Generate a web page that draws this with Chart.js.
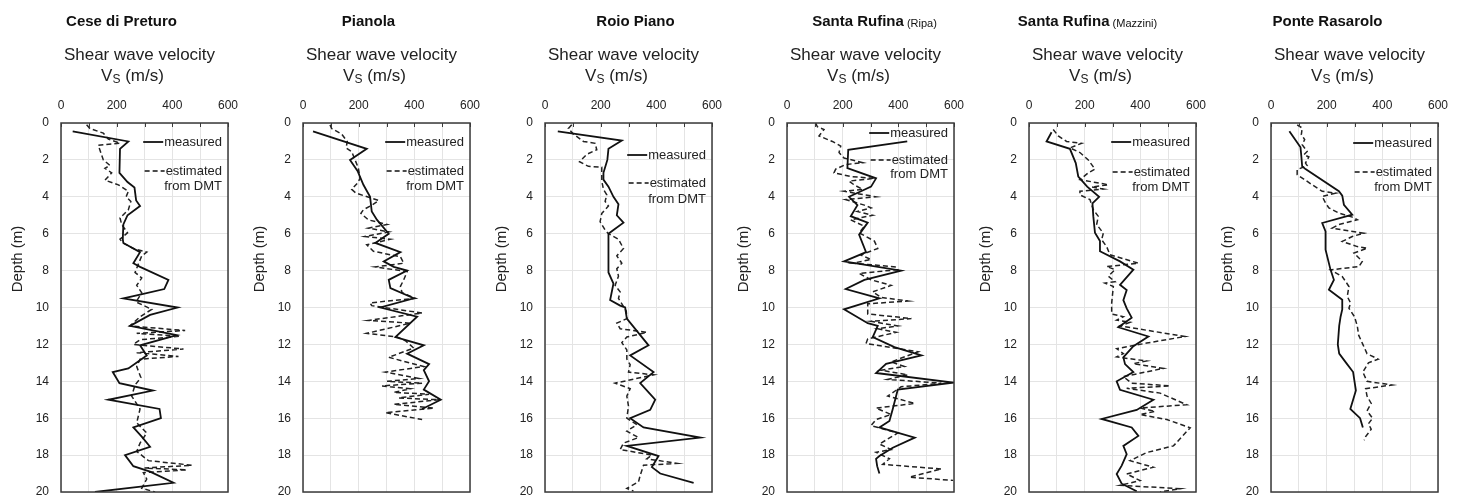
<!DOCTYPE html>
<html><head><meta charset="utf-8">
<script src="https://cdn.jsdelivr.net/npm/chart.js@4.4.1/dist/chart.umd.min.js"></script>
<style>
html,body{margin:0;padding:0;background:#fff;}
#wrap{position:relative;width:1464px;height:500px;overflow:hidden;}
.panel{position:absolute;top:0;width:242px;height:500px;}
</style></head><body><div id="wrap"></div>
<script>
// ---------- data ----------
const siteNames = ['Cese di Preturo','Pianola','Roio Piano','Santa Rufina','Santa Rufina','Ponte Rasarolo'];
const siteSuffix = ['','','','(Ripa)','(Mazzini)',''];
const xTickValues = [0,100,200,300,400,500,600];
const yTickValues = [0,2,4,6,8,10,12,14,16,18,20];

const ceseMeasDepth = [0.45,1.0,1.4,2.7,3.2,3.5,4.2,4.5,5.0,5.5,6.3,6.5,7.0,7.6,7.8,8.5,9.0,9.3,9.5,10.0,10.4,11.0,11.5,12.05,12.6,13.3,13.5,14.1,14.5,15.0,15.5,16.0,16.5,17.0,17.55,18.0,18.6,18.9,19.5,20.0];
const ceseMeasVs    = [42,242,212,210,239,264,270,284,239,224,222,224,284,260,284,386,371,284,224,419,320,248,416,284,308,242,186,210,330,170,354,359,260,290,320,230,260,320,404,122];
const ceseDmtDepth  = [0.1,0.3,0.55,0.87,1.1,1.2,2.0,2.3,2.45,2.7,3.1,3.35,3.7,4.0,4.25,4.7,5.15,5.5,5.95,6.3,6.5,6.8,7.0,7.2,8.1,8.4,8.8,9.2,9.7,10.1,10.5,11.0,11.25,11.4,11.55,11.75,12.0,12.25,12.45,12.65,12.8,13.2,13.8,14.2,14.8,15.5,16.25,16.8,17.35,17.8,18.3,18.55,18.7,18.8,18.95,19.3,19.8,20.0];
const ceseDmtVs     = [92,104,152,170,212,134,152,176,158,182,158,206,242,234,251,242,212,218,239,212,222,260,308,290,266,290,272,290,270,326,284,248,446,272,428,284,260,440,272,422,284,272,287,266,254,284,272,308,284,272,314,470,300,452,296,308,290,338];

const pianMeasDepth = [0.45,1.4,2.0,2.6,3.35,4.0,4.8,5.25,6.0,6.5,7.0,7.5,7.8,8.0,8.5,8.95,9.5,10.0,10.5,11.6,12.05,12.5,13.07,13.4,14.0,14.45,15.0,15.5];
const pianMeasVs    = [36,229,169,196,217,241,247,266,308,260,350,290,326,374,308,314,398,278,410,332,434,374,453,434,453,434,495,428];
const pianDmtDepth  = [0.1,0.3,0.6,1.0,1.35,1.55,2.45,3.0,3.25,3.6,3.8,4.2,4.4,4.7,4.9,5.25,5.5,5.7,5.9,6.15,6.3,6.6,6.95,7.25,7.6,7.8,8.05,8.5,8.85,9.2,9.5,9.75,9.9,10.3,10.7,10.85,11.4,11.6,11.8,12.2,12.7,13.2,13.5,13.85,14.0,14.1,14.25,14.4,14.6,14.7,14.9,15.0,15.25,15.45,15.7,16.07];
const pianDmtVs     = [97,103,139,159,155,175,199,205,196,175,190,272,253,217,208,235,302,235,308,223,314,229,253,350,362,259,374,362,350,356,404,241,247,428,235,386,229,338,368,398,308,434,296,416,302,428,284,386,326,453,344,489,326,471,296,428];

const roioMeasDepth = [0.45,0.95,1.4,2.0,2.7,3.07,3.45,4.0,4.4,5.0,5.4,5.8,6.0,7.2,8.1,8.7,9.6,9.9,10.0,10.6,12.05,12.6,13.5,14.1,15.0,15.55,16.0,16.5,17.05,17.5,18.05,18.65,19.0,19.5];
const roioMeasVs    = [46,276,228,224,210,210,228,246,264,258,282,246,228,228,228,246,234,270,288,294,372,306,390,342,396,378,306,354,558,294,408,384,414,534];
const roioDmtDepth  = [0.1,0.3,0.6,1.0,1.1,1.45,1.7,2.1,2.35,2.4,3.15,3.6,3.9,4.25,4.5,4.9,5.35,5.8,6.0,6.3,6.8,7.2,7.6,7.9,8.3,8.8,9.15,9.5,10.2,10.6,10.85,11.15,11.35,11.6,11.9,12.3,12.8,13.1,13.5,13.65,14.1,14.4,14.8,15.35,16.0,16.35,16.7,17.05,17.35,17.7,18.0,18.2,18.45,18.55,19.1,19.45,19.8,19.95];
const roioDmtVs     = [96,84,102,138,180,186,150,124,156,204,204,210,222,216,228,204,198,216,228,264,282,258,276,258,264,252,270,264,292,294,258,270,366,294,276,294,294,306,300,390,252,306,294,300,294,330,294,336,282,270,384,366,474,354,342,336,294,318];

const ripaMeasDepth = [1.0,1.45,2.45,3.0,3.45,3.7,4.0,4.45,5.05,5.4,6.05,7.0,7.5,8.0,8.5,9.0,9.5,10.1,10.85,11.0,11.6,12.15,12.6,13.05,13.55,14.07,14.45,15.5,16.15,16.5,17.05,17.6,18.05,18.2,18.6,19.0];
const ripaMeasVs    = [432,220,217,320,302,266,223,253,229,290,259,284,205,410,278,211,332,205,290,326,308,386,483,356,320,597,398,380,368,332,459,380,332,320,324,332];
const ripaDmtDepth  = [0.0,0.2,0.35,0.7,1.0,1.25,1.6,1.9,2.15,2.25,2.5,2.7,2.9,3.0,3.15,3.35,3.6,3.7,4.0,4.15,4.45,4.6,4.8,5.0,5.25,5.6,5.95,6.4,6.8,7.15,7.4,7.6,7.8,7.95,8.15,8.5,8.8,9.15,9.45,9.65,9.8,10.35,10.6,10.75,11.0,11.15,11.35,11.7,11.95,12.2,12.4,12.95,13.2,13.4,13.65,13.9,14.1,14.3,14.8,15.2,15.45,15.8,16.07,16.4,16.8,17.4,17.7,17.85,18.2,18.5,18.75,19.2,19.37];
const ripaDmtVs     = [103,109,133,115,163,193,187,205,272,211,175,169,229,314,223,241,272,205,320,211,278,302,253,308,229,278,259,314,326,265,302,235,392,398,259,302,374,308,338,434,290,290,447,302,398,326,392,290,284,386,471,374,422,338,434,362,555,410,362,459,320,374,320,302,398,332,374,320,368,344,555,440,597];

const mazzMeasDepth = [0.5,1.0,1.4,2.17,2.9,3.45,4.0,4.35,5.05,5.95,6.4,6.95,7.5,7.95,8.77,9.05,9.6,10.05,10.55,11.07,11.57,12.1,12.7,13.07,13.5,14.0,14.46,15.0,15.55,16.04,16.5,16.96,17.5,17.95,18.57,19.02,19.55,19.96];
const mazzMeasVs    = [81,63,147,168,177,209,252,228,231,237,255,255,327,375,327,351,339,351,369,321,429,375,339,345,375,315,327,447,387,261,369,393,339,351,333,315,333,387];
const mazzDmtDepth  = [0.35,0.7,1.0,1.1,1.35,1.6,2.0,2.5,2.7,3.07,3.35,3.47,3.58,3.7,3.9,4.15,4.7,5.06,5.5,5.97,6.33,6.7,7.14,7.6,7.78,7.95,8.3,8.6,8.68,8.86,9.76,10.35,10.5,10.68,10.8,11.0,11.57,11.93,12.23,12.5,12.68,12.9,13.04,13.3,13.75,14.1,14.25,14.38,14.64,15.27,15.45,15.63,15.8,16.07,16.52,17.5,17.86,18.3,18.66,19.02,19.38,19.64,19.82,20.0];
const mazzDmtVs     = [87,105,135,189,147,183,213,237,213,183,285,225,267,183,183,219,231,249,243,267,261,279,291,393,279,309,285,309,273,303,297,297,339,315,363,327,561,423,315,339,315,423,375,483,339,369,507,351,471,567,399,453,399,495,579,519,423,363,447,351,399,327,543,471];

const ponteMeasDepth = [0.45,1.32,1.8,2.35,2.5,3.7,3.94,4.43,4.97,5.42,5.88,6.87,7.96,8.5,9.04,9.58,10.1,10.5,11.0,12.0,12.5,13.0,13.5,14.0,14.5,15.0,15.5,16.0,16.5];
const ponteMeasVs    = [66,106,109,112,124,244,256,262,292,184,196,196,214,226,208,256,256,250,245,240,245,270,295,300,305,295,285,320,330];
const ponteDmtDepth  = [0.1,0.27,0.63,0.9,1.18,1.54,1.72,1.84,2.17,2.31,2.53,2.8,3.04,3.35,3.7,3.8,3.98,4.34,4.6,4.88,5.1,5.24,5.5,5.7,5.97,6.15,6.42,6.7,6.78,7.05,7.5,7.78,7.96,8.32,8.86,9.4,9.76,10.04,10.5,11.0,11.5,12.0,12.5,12.8,13.0,13.5,14.0,14.2,14.4,14.8,15.2,15.6,16.0,16.3,16.6,17.0,17.2];
const ponteDmtVs     = [94,112,109,121,112,130,118,136,124,130,94,94,118,148,184,232,184,196,208,244,292,310,244,220,334,292,256,310,346,298,328,316,214,256,280,274,286,280,300,310,315,330,345,385,350,330,345,435,340,345,360,345,365,350,360,340,335];

const measuredDepths = [ceseMeasDepth,pianMeasDepth,roioMeasDepth,ripaMeasDepth,mazzMeasDepth,ponteMeasDepth];
const measuredValues = [ceseMeasVs,pianMeasVs,roioMeasVs,ripaMeasVs,mazzMeasVs,ponteMeasVs];
const dmtDepths = [ceseDmtDepth,pianDmtDepth,roioDmtDepth,ripaDmtDepth,mazzDmtDepth,ponteDmtDepth];
const dmtValues = [ceseDmtVs,pianDmtVs,roioDmtVs,ripaDmtVs,mazzDmtVs,ponteDmtVs];

// ---------- layout (not data) ----------
const PANEL_STEP = 242;
const legendOffsets = [[19,48,63],[19,48,63],[32,60,76],[10,37,51],[19,49,64],[20,49,64]];
const titleShift = [-23,-18,7,4,-25,-27];
const FONT = '"Liberation Sans", Arial, sans-serif';

function pts(d, v){ return d.map((dd,i)=>({x:v[i], y:dd})); }

const decor = {
  id:'decor',
  afterDraw(chart, args, o){
    const {ctx, chartArea:a, scales:{x}} = chart;
    ctx.save();
    ctx.strokeStyle = '#3a3a3a'; ctx.lineWidth = 1.5;
    ctx.strokeRect(a.left, a.top, a.right-a.left, a.bottom-a.top);
    ctx.lineWidth = 1;
    xTickValues.forEach(v=>{
      const px = Math.round(x.getPixelForValue(v))+0.5;
      ctx.beginPath(); ctx.moveTo(px, a.top); ctx.lineTo(px, a.top+4); ctx.stroke();
    });
    const cx = (a.left+a.right)/2;
    ctx.fillStyle = '#111';
    ctx.textBaseline = 'middle';
    // title
    ctx.font = 'bold 15px '+FONT;
    const t1 = o.name; const w1 = ctx.measureText(t1).width;
    let w2 = 0;
    if (o.suffix){ ctx.font = '11px '+FONT; w2 = ctx.measureText(' '+o.suffix).width; }
    let tx = cx + o.shift - (w1+w2)/2;
    ctx.textAlign = 'left';
    ctx.font = 'bold 15px '+FONT; ctx.fillText(t1, tx, 22);
    if (o.suffix){ ctx.font = '11px '+FONT; ctx.fillText(' '+o.suffix, tx+w1, 24); }
    // subtitle
    ctx.fillStyle = '#222';
    ctx.font = '17px '+FONT; ctx.textAlign = 'center';
    ctx.fillText('Shear wave velocity', cx-5, 55);
    ctx.textAlign = 'left';
    const pV = 'V', pS = 'S', pR = ' (m/s)';
    ctx.font = '17px '+FONT; const wV = ctx.measureText(pV).width, wR = ctx.measureText(pR).width;
    ctx.font = '12px '+FONT; const wS = ctx.measureText(pS).width;
    let sx = cx - 12 - (wV+wS+wR)/2;
    ctx.font = '17px '+FONT; ctx.fillText(pV, sx, 76);
    ctx.font = '12px '+FONT; ctx.fillText(pS, sx+wV, 80);
    ctx.font = '17px '+FONT; ctx.fillText(pR, sx+wV+wS, 76);
    // y axis title
    ctx.save();
    ctx.translate(a.left-43, 259); ctx.rotate(-Math.PI/2);
    ctx.textAlign = 'center'; ctx.font = '15px '+FONT; ctx.fillStyle = '#222';
    ctx.fillText('Depth (m)', 0, 0);
    ctx.restore();
    // legend
    const off = o.legend;
    ctx.font = '13px '+FONT; ctx.fillStyle = '#222'; ctx.textAlign = 'right';
    const rx = a.right - 6;
    const lines = [['measured',off[0],[]],['estimated',off[1],[5,3]]];
    lines.forEach(([txt, dy, dash])=>{
      const w = ctx.measureText(txt).width;
      ctx.fillText(txt, rx, a.top+dy);
      ctx.setLineDash(dash); ctx.strokeStyle = '#111'; ctx.lineWidth = dash.length?1.5:1.8;
      ctx.beginPath(); ctx.moveTo(rx-w-21, a.top+dy); ctx.lineTo(rx-w-1, a.top+dy); ctx.stroke();
      ctx.setLineDash([]);
    });
    ctx.fillText('from DMT', rx, a.top+off[2]);
    ctx.restore();
  }
};

const wrap = document.getElementById('wrap');
for (let i=0;i<6;i++){
  const div = document.createElement('div');
  div.className='panel'; div.style.left = (i*PANEL_STEP)+'px';
  const cv = document.createElement('canvas'); cv.width=242; cv.height=500;
  div.appendChild(cv); wrap.appendChild(div);
  new Chart(cv, {
    type:'scatter',
    data:{ datasets:[
      {label:'measured', data:pts(measuredDepths[i], measuredValues[i]), showLine:true, borderColor:'#111', borderWidth:1.8, pointRadius:0, pointHoverRadius:0, tension:0},
      {label:'estimated from DMT', data:pts(dmtDepths[i], dmtValues[i]), showLine:true, borderColor:'#222', borderWidth:1.5, borderDash:[5,3], pointRadius:0, pointHoverRadius:0, tension:0}
    ]},
    options:{
      responsive:false, animation:false, devicePixelRatio:1,
      layout:{autoPadding:false, padding:{left:0,right:14,top:0,bottom:8}},
      plugins:{legend:{display:false}, title:{display:false}, tooltip:{enabled:false},
        decor:{name:siteNames[i], suffix:siteSuffix[i], legend:legendOffsets[i], shift:titleShift[i]}},
      scales:{
        x:{type:'linear', position:'top', min:0, max:600,
           afterFit:s=>{s.height=123; s.paddingRight=0; s.paddingLeft=0;},
           afterBuildTicks:s=>{s.ticks = xTickValues.map(v=>({value:v}));},
           grid:{color:'#e4e4e4', drawTicks:false, lineWidth:1},
           border:{display:false},
           ticks:{padding:10, color:'#222', font:{family:FONT,size:12}, maxRotation:0,
             callback:v=> (v%200===0? String(v):'')}},
        y:{type:'linear', reverse:true, min:0, max:20,
           afterFit:s=>{s.width=61; s.paddingTop=0; s.paddingBottom=0;},
           afterBuildTicks:s=>{s.ticks = yTickValues.map(v=>({value:v}));},
           grid:{color:'#e4e4e4', drawTicks:false, lineWidth:1},
           border:{display:false},
           ticks:{padding:12, color:'#222', font:{family:FONT,size:12}},
           title:{display:false}}
      }
    },
    plugins:[decor]
  });
}
</script></body></html>
